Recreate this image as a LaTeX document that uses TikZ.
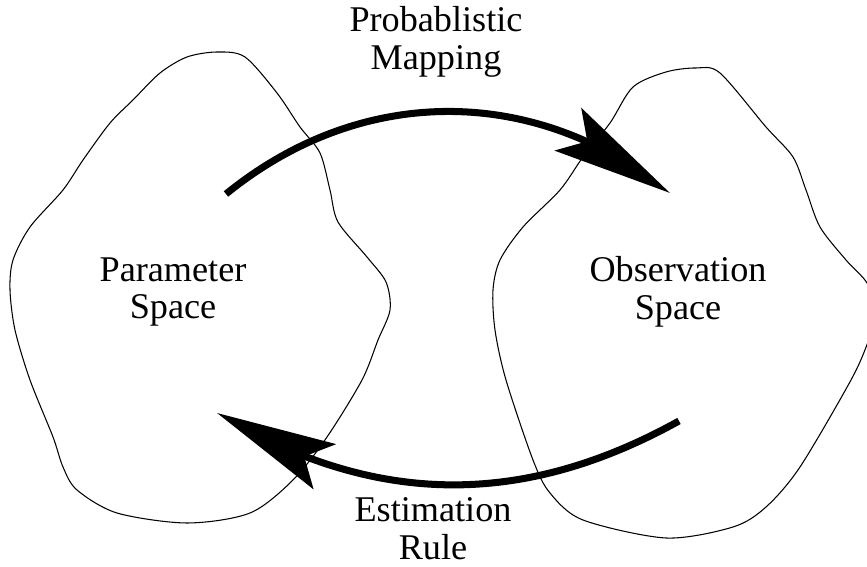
\documentclass[tikz,border=0pt]{standalone}
\usepackage{fontspec}
\setmainfont{Liberation Serif}
\usetikzlibrary{arrows.meta,bending}

\begin{document}
\begin{tikzpicture}[x=0.02cm, y=-0.02cm,
		blob/.style={line width=0.6pt},
		bigarrow/.style={line width=4pt, -{Stealth[length=2.4cm, width=1cm, inset=0.45cm]}},
		spacelabel/.style={align=center, inner sep=0pt, font=\fontsize{20.6}{21.6}\selectfont}]
	\useasboundingbox (0,0) rectangle (867,567);
	\draw[blob] plot[smooth cycle] coordinates {(217,52) (245,57) (277,93) (300,127) (320,153) (330,190) (338,222) (367,257) (386,282) (390,310) (378,340) (362,380) (327,437) (293,480) (250,513) (187,523) (117,513) (77,490) (63,467) (53,437) (30,380) (15,330) (10,290) (13,260) (30,227) (63,190) (83,160) (110,123) (133,100) (160,73) (187,57)};
	\draw[blob] plot[smooth cycle] coordinates {(696,68) (720,73) (766,127) (793,157) (806,190) (820,227) (846,260) (867,283) (877,312) (868,342) (851,380) (800,467) (766,507) (733,527) (666,538) (583,520) (550,493) (533,460) (506,380) (495,330) (493,290) (500,260) (523,227) (560,190) (583,157) (610,123) (633,87) (666,72)};
	\node[spacelabel] (param) at (173,292) {Parameter\\Space};
	\node[spacelabel] (obs) at (678,292) {Observation\\Space};
	\node[spacelabel] (mapping) at (436,42) {Probablistic\\Mapping};
	\node[spacelabel] (estim) at (433,529) {Estimation\\Rule};
	\coordinate (map-from) at (226,194);
	\coordinate (map-to) at (670,193);
	\coordinate (est-from) at (679,421);
	\coordinate (est-to) at (217,413);
	\draw[bigarrow] (map-from) to[bend left=39] (map-to);
	\draw[bigarrow] (est-from) to[bend left=30] (est-to);
\end{tikzpicture}
\end{document}
